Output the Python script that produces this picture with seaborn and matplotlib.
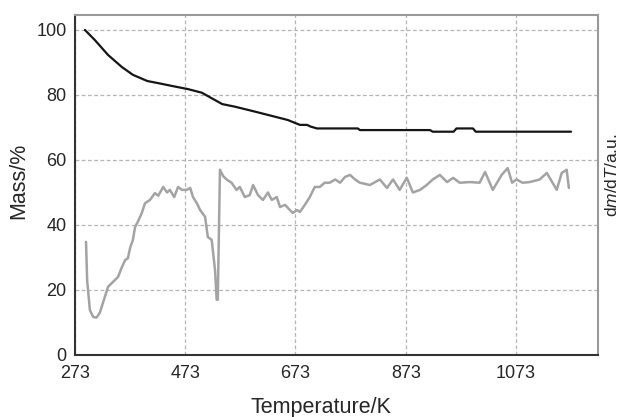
import seaborn as sns
import matplotlib.pyplot as plt
import pandas as pd

# mass curve (TG)
mass_T = [291, 309, 333, 358, 378, 404, 431, 454, 478, 503, 521, 540, 563, 599,
          636, 659, 681, 694, 700, 712, 786, 790, 917, 922, 960, 965, 995, 1000, 1173]
mass_val = [100, 96.9, 92.3, 88.6, 86.2, 84.3, 83.4, 82.6, 81.8, 80.7, 79.0, 77.2,
            76.4, 74.9, 73.3, 72.3, 70.8, 70.8, 70.3, 69.7, 69.7, 69.2, 69.2, 68.7,
            68.7, 69.7, 69.7, 68.7, 68.7]

# derivative curve (DTG), arbitrary units drawn on the same scale
dtg_T = [293, 295, 300, 306, 312, 318, 327, 333, 342, 351, 358, 364, 369, 373, 378,
         382, 387, 394, 400, 409, 418, 424, 433, 440, 445, 453, 460, 467, 476, 482,
         487, 494, 500, 509, 514, 521, 527, 530, 532, 536, 542, 548, 557, 566, 572,
         581, 590, 596, 605, 614, 623, 630, 639, 645, 654, 663, 668, 676, 681, 690,
         699, 708, 717, 726, 735, 745, 754, 763, 772, 781, 790, 808, 826, 839, 850,
         862, 875, 886, 899, 911, 922, 935, 948, 959, 971, 989, 1007, 1017, 1031,
         1047, 1058, 1066, 1074, 1085, 1098, 1116, 1129, 1147, 1156, 1165, 1169]
dtg_val = [34.8, 23, 13.8, 11.7, 11.5, 13, 17.8, 21, 22.5, 24, 27, 29.2, 29.8, 33,
           35.4, 39.4, 41, 43.6, 46.7, 47.7, 49.8, 49, 51.7, 50, 50.8, 48.6, 51.7,
           50.8, 50.8, 51.4, 48.6, 46.7, 44.6, 42.5, 36.3, 35.4, 26.2, 17, 17, 57,
           55, 54, 53, 50.8, 51.7, 48.6, 49.2, 52.3, 49.2, 47.7, 50, 47.7, 48.6,
           45.5, 46.2, 44.6, 43.7, 44.6, 44, 46.2, 48.6, 51.7, 51.7, 53, 53, 54, 53,
           54.8, 55.4, 54, 53, 52.3, 54, 51.4, 54, 50.8, 54.5, 50, 50.8, 52.3, 54,
           55.4, 53.2, 54.5, 53, 53.2, 53, 56.3, 50.8, 55.4, 57.5, 53, 54, 53, 53.2,
           54, 56, 50.8, 56, 57, 51.4]

x_major = [273, 473, 673, 873, 1073]
x_minor = [373, 573, 773, 973, 1173]
y_major = [0, 20, 40, 60, 80, 100]
y_minor = [10, 30, 50, 70, 90]

mass_df = pd.DataFrame({"T": mass_T, "val": mass_val})
dtg_df = pd.DataFrame({"T": dtg_T, "val": dtg_val})

sns.set_style("white")
plt.rcParams["font.family"] = ["Liberation Sans", "DejaVu Sans"]
plt.rcParams["mathtext.fontset"] = "custom"
plt.rcParams["mathtext.rm"] = "Liberation Sans"
plt.rcParams["mathtext.it"] = "Liberation Sans:italic"

fig = plt.figure(figsize=(6.23, 4.17), dpi=100)
ax = fig.add_axes([0.1204, 0.1487, 0.8396, 0.8153])

sns.lineplot(data=dtg_df, x="T", y="val", color="#a3a3a3", linewidth=1.8, ax=ax)
sns.lineplot(data=mass_df, x="T", y="val", color="#151515", linewidth=1.6, ax=ax)

ax.set_xlim(273, 1222)
ax.set_ylim(0, 104.6)
ax.set_xticks(x_major)
ax.set_xticks(x_minor, minor=True)
ax.set_yticks(y_major)
ax.set_yticks(y_minor, minor=True)
ax.tick_params(axis="x", which="major", pad=7)
ax.tick_params(axis="y", which="major", pad=6)
ax.tick_params(axis="both", which="major", direction="in", length=3, width=1,
               labelsize=13, color="#333333")
ax.tick_params(axis="both", which="minor", direction="in", length=3, width=1,
               color="#333333")
ax.grid(True, which="major", color="#b5b5b5", linestyle=(0, (3, 2)), linewidth=0.9)

for side in ["left", "bottom"]:
    ax.spines[side].set_color("#333333")
    ax.spines[side].set_linewidth(1.5)
for side in ["top", "right"]:
    ax.spines[side].set_color("#999999")
    ax.spines[side].set_linewidth(1.5)

ax.set_xlabel("")
ax.set_ylabel("")
fig.text(321 / 623, 1 - 407 / 417, "Temperature/K", fontsize=15.5,
         ha="center", va="center")
fig.text(19 / 623, 1 - 181 / 417, "Mass/%", fontsize=15.5, rotation=90,
         ha="center", va="center")
fig.text(612 / 623, 1 - 175 / 417, r"d$\mathit{m}$/d$\mathit{T}$/a.u.",
         fontsize=12.5, rotation=90, ha="center", va="center")

plt.savefig("out.png", dpi=100)
